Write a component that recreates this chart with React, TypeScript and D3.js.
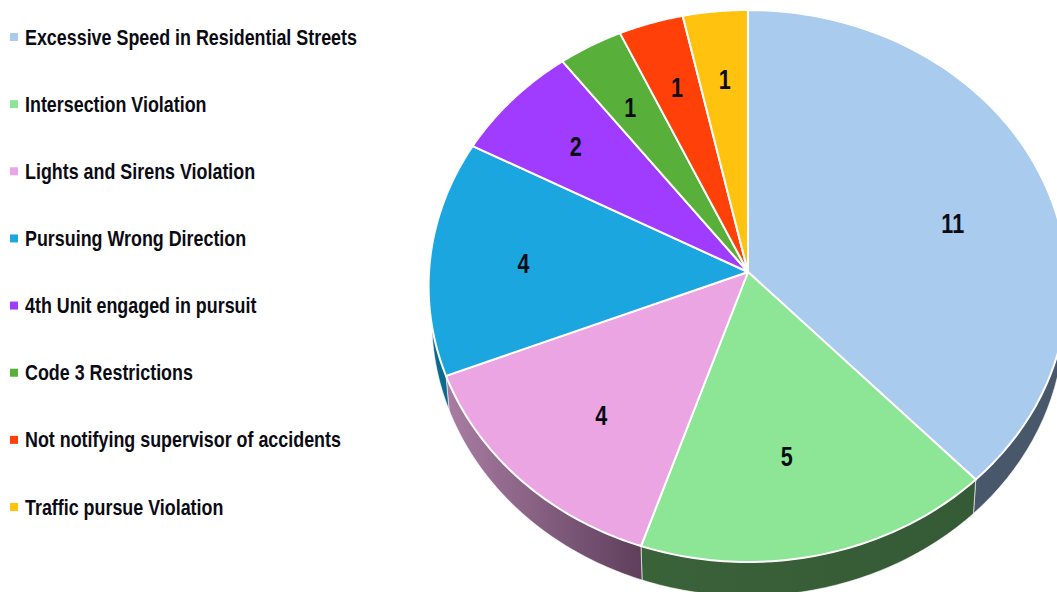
import * as d3 from 'd3';

const categories = [
  'Excessive Speed in Residential Streets',
  'Intersection Violation',
  'Lights and Sirens Violation',
  'Pursuing Wrong Direction',
  '4th Unit engaged in pursuit',
  'Code 3 Restrictions',
  'Not notifying supervisor of accidents',
  'Traffic pursue Violation',
];
const counts = [11, 5, 4, 4, 2, 1, 1, 1];
const colors = ['#a9cbee', '#8ce696', '#eaa5e2', '#1ba6e0', '#a03cff', '#58b03a', '#ff4008', '#ffc20e'];
const wallLight = ['#48586a', '#3a6239', '#a97da3', '#0f86b4', '#6a28aa', '#3a7626', '#aa2a05', '#aa8209'];
const wallDark = ['#3f4d5c', '#355a36', '#5f3f5c', '#0c6a8f', '#50208a', '#2c5a1c', '#801f04', '#806207'];
// hand placed labels sit a little off the computed spot
const labelNudgeX = [0, -11, 11, -2, -6, -6, -2, 0];
const labelNudgeY = [22, -10, 0, 2, -3, -4, -8, -7];

const cx = 748;
const cy = 272;
const rx = 319;
const ry = 275.3;
const tilt = 0.0507; // perspective: the near edge of the disc draws bigger
const depth = 34;

const project = (r: number, a: number): [number, number] => {
  const u = r * Math.sin(a);
  const v = -r * Math.cos(a);
  const w = 1 / (1 - tilt * v);
  return [cx + rx * u * w, cy + ry * v * w];
};
const drop = ([x, y]: [number, number]): [number, number] => [cx + (x - cx) * 0.99, y + depth];

const rim = (a0: number, a1: number) =>
  d3.range(0, 61).map((i) => project(1, a0 + ((a1 - a0) * i) / 60));

const line = d3.line<[number, number]>();
const slices = d3.pie<number>().sort(null)(counts);

const legendY = d3
  .scalePoint<string>()
  .domain(categories)
  .range([37, 507]);

export default function App() {
  return (
    <svg
      width={1057}
      height={592}
      viewBox="0 0 1057 592"
      style={{ position: 'absolute', left: 0, top: 0, background: '#fff' }}
      fontFamily="'Liberation Sans', Arial, sans-serif"
      fontWeight="bold"
    >
      <defs>
        {slices.map((s, i) => {
          const ends = rim(s.startAngle, s.endAngle);
          return (
            <linearGradient
              key={i}
              id={`wall-${i}`}
              gradientUnits="userSpaceOnUse"
              x1={ends[60][0]}
              y1={0}
              x2={ends[0][0]}
              y2={0}
            >
              <stop offset="0%" stopColor={wallLight[i]} />
              <stop offset="100%" stopColor={wallDark[i]} />
            </linearGradient>
          );
        })}
      </defs>

      {slices.map((s, i) => {
        const top = rim(s.startAngle, s.endAngle);
        const wall = [...top, ...top.map(drop).reverse()];
        return (
          <path
            key={`w-${i}`}
            d={`${line(wall)}Z`}
            fill={`url(#wall-${i})`}
            stroke="#fff"
            strokeWidth={1}
            strokeOpacity={0.6}
          />
        );
      })}

      {slices.map((s, i) => {
        const top = rim(s.startAngle, s.endAngle);
        return (
          <path
            key={`f-${i}`}
            d={`${line([[cx, cy], ...top])}Z`}
            fill={colors[i]}
            stroke="#fff"
            strokeWidth={2}
            strokeLinejoin="round"
          />
        );
      })}

      {slices.map((s, i) => {
        const [x, y] = project(0.7, (s.startAngle + s.endAngle) / 2);
        return (
          <text
            key={`l-${i}`}
            transform={`translate(${x + labelNudgeX[i]},${y + labelNudgeY[i]}) scale(0.8,1)`}
            textAnchor="middle"
            dominantBaseline="central"
            fontSize={27}
            fill="#0b0b14"
          >
            {counts[i]}
          </text>
        );
      })}

      {categories.map((c, i) => (
        <g key={c} transform={`translate(0,${legendY(c)})`}>
          <rect x={10} y={-4} width={8} height={8} fill={colors[i]} />
          <text
            transform="translate(25,0) scale(0.84,1)"
            dominantBaseline="central"
            fontSize={21.3}
            fill="#0b0b14"
          >
            {c}
          </text>
        </g>
      ))}
    </svg>
  );
}
